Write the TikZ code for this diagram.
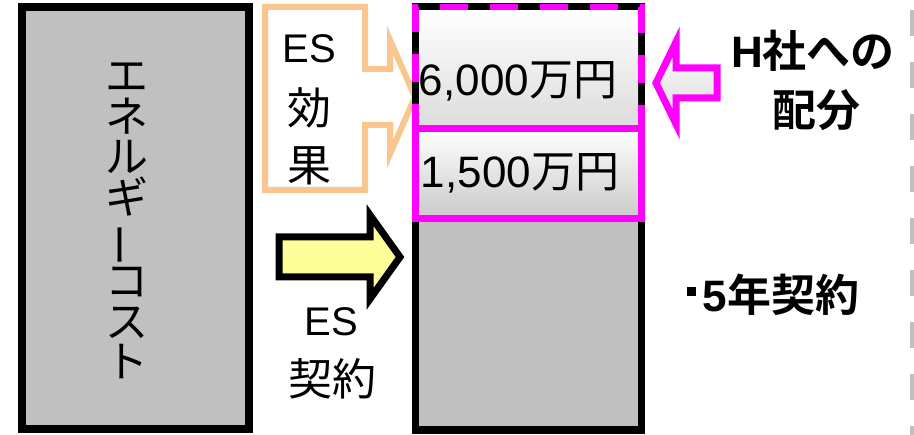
\documentclass[tikz,border=0pt]{standalone}
\usepackage{fontspec}
\usepackage{graphicx}
\newfontfamily\cjk{Noto Sans CJK JP}
\newfontfamily\lat{Liberation Sans}
\newfontfamily\cjkb{Noto Sans CJK JP Bold}
\newfontfamily\latb{Liberation Sans Bold}
\definecolor{boxgray}{HTML}{C0C0C0}
\definecolor{peach}{HTML}{FAC58F}
\definecolor{lemon}{HTML}{FFFF99}
\definecolor{mag}{HTML}{FF00FF}
\newcommand{\sqdot}{\rule[0.36em]{0.21em}{0.21em}\hspace{0.15em}}
\newcommand{\esfont}{\lat\fontsize{40}{48}\selectfont}
\begin{document}
\begin{tikzpicture}[x=1pt,y=-1pt,
  txt/.style={inner sep=0pt,align=center,font=\fontsize{44}{50}\selectfont},
  graybox/.style={draw=black,fill=boxgray,line width=7.5pt,line join=miter},
  gradbox/.style={top color=white,bottom color=#1},
]
\useasboundingbox (0,0) rectangle (914,435);
% right dashed guide
\coordinate (g1) at (912,10);
\coordinate (g2) at (912,435);
\draw[boxgray,line width=4pt,dash pattern=on 26pt off 26pt] (g1) -- (g2);

% left box
\draw[graybox] (22,7) rectangle (249,429);
\node[txt,font=\cjk\fontsize{43}{40.5}\selectfont] (cost) at (127,221)
  {エ\\ネ\\ル\\ギ\\\rotatebox[origin=c]{90}{ー}\\コ\\ス\\ト};

% ES effect callout
\draw[peach,fill=white,line width=6pt,line join=miter]
  (265,7) -- (365,7) -- (365,69) -- (390,69) -- (390,40) -- (415,97)
  -- (390,154) -- (390,125) -- (365,125) -- (365,190) -- (265,190) -- cycle;
\node[txt] (es1) at (309,49) {\esfont ES};
\node[txt] (k1) at (309,108) {\cjk 効};
\node[txt] (k2) at (309,166) {\cjk 果};

% right column
\draw[graybox] (415.5,7) rectangle (641.5,430);
\fill[gradbox=gray!28] (419,10.5) rectangle (638,128.5);
\fill[gradbox=gray!42] (418,128.5) rectangle (639,218.5);
\draw[mag,line width=6.5pt] (415.5,128.5) rectangle (641.5,218.5);
\draw[mag,line width=6.5pt,dash pattern=on 28pt off 22pt,dash phase=4pt]
  (415.5,128.5) -- (415.5,7) -- (641.5,7) -- (641.5,128.5);
\node[txt] (v1) at (518,81) {\lat 6,000\cjk 万円};
\node[txt] (v2) at (520,173) {\lat 1,500\cjk 万円};

% ES contract arrow
\draw[black,fill=lemon,line width=7pt,line join=miter]
  (279,237) -- (370,237) -- (370,215) -- (400,257) -- (370,299)
  -- (370,277) -- (279,277) -- cycle;
\node[txt] (es2) at (331,322) {\esfont ES};
\node[txt] (kk) at (332,379) {\cjk 契約};

% H share arrow
\draw[mag,gradbox=gray!30,line width=7pt,line join=miter]
  (656,83) -- (676,42) -- (676,68) -- (717,68) -- (717,98) -- (676,98)
  -- (676,124) -- cycle;
\node[txt] (h1) at (813,51) {\latb H\cjkb 社への};
\node[txt] (h2) at (816,110) {\cjkb 配分};

\node[txt] (yr) at (773,295) {\sqdot\latb 5\cjkb 年契約};
\end{tikzpicture}
\end{document}
